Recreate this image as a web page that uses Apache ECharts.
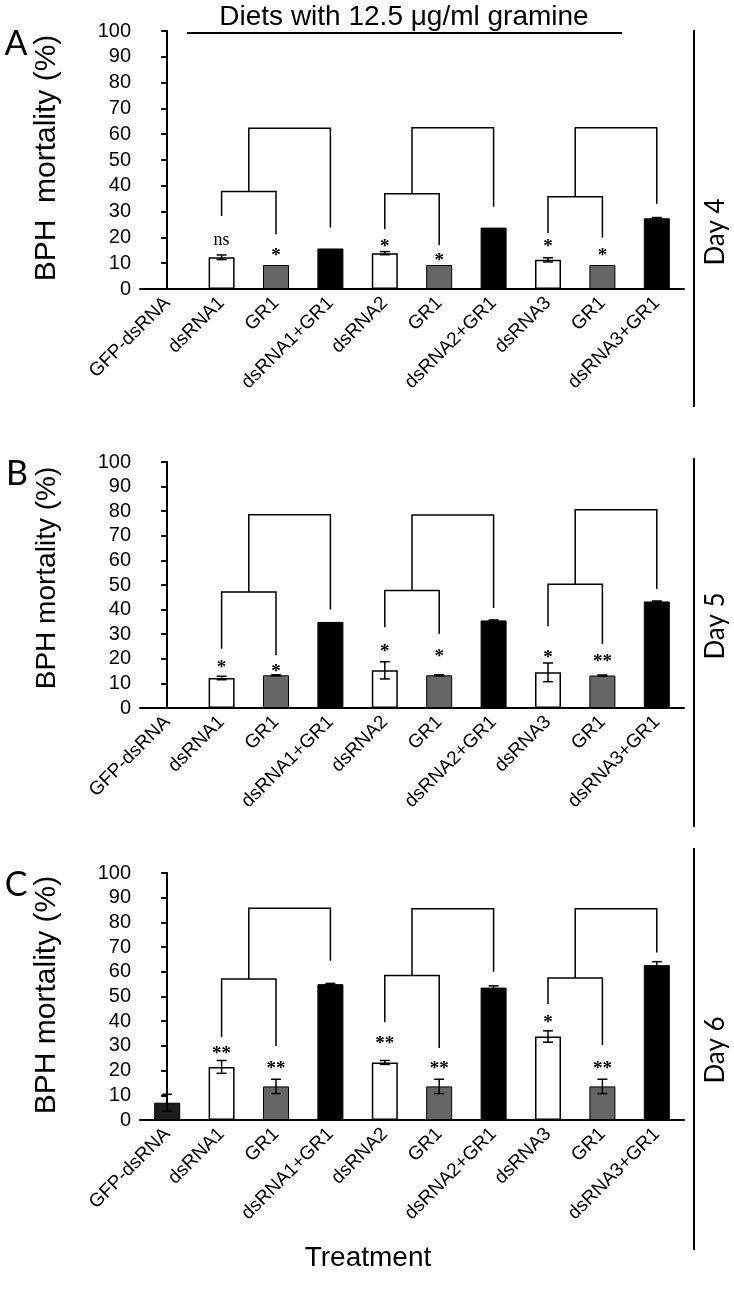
<!DOCTYPE html>
<html>
<head>
<meta charset="utf-8">
<script src="https://cdn.jsdelivr.net/npm/echarts@6/dist/echarts.min.js"></script>
<style>
  html, body { margin: 0; padding: 0; background: #fff; }
  #chart { width: 734px; height: 1289px; }
</style>
</head>
<body>
<div id="chart"></div>
<script>
// treatments along the x axis
var categories = ['GFP-dsRNA', 'dsRNA1', 'GR1', 'dsRNA1+GR1', 'dsRNA2', 'GR1', 'dsRNA2+GR1', 'dsRNA3', 'GR1', 'dsRNA3+GR1'];

// Day 4 (panel A)
var meanDay4 = [0, 12.3, 9.3, 15.7, 13.9, 9.3, 23.8, 11.3, 9.3, 27.4];
var errDay4 = [0, 0.9, 0, 0, 0.6, 0, 0, 0.8, 0, 0.3];
var sigDay4 = ['', 'ns', '*', '', '*', '*', '', '*', '*', ''];
var sigYDay4 = [0, 19, 14.4, 0, 17.7, 12.5, 0, 17.7, 14.4, 0];
// brackets: [left x, right x, top, left end, right end]
var bracketDay4 = [
  [1, 2, 37.8, 28.3, 21.2],
  [1.5, 3, 62.3, 37.8, 23.8],
  [4, 5, 36.9, 23.2, 17.0],
  [4.5, 6, 62.5, 36.9, 31.9],
  [7, 8, 35.8, 21.6, 20.0],
  [7.5, 9, 62.5, 35.8, 33.0]
];

// Day 5 (panel B)
var meanDay5 = [0, 12.2, 13.3, 35.0, 15.3, 13.3, 35.6, 14.5, 13.2, 43.3];
var errDay5 = [0, 0.7, 0.2, 0, 3.5, 0.2, 0.2, 3.8, 0.2, 0.2];
var sigDay5 = ['', '*', '*', '', '*', '*', '', '*', '**', ''];
var sigYDay5 = [0, 18.0, 16.3, 0, 24.4, 22.4, 0, 22.0, 20.3, 0];
var bracketDay5 = [
  [1, 2, 47.2, 24.1, 21.4],
  [1.5, 3, 78.6, 47.2, 40.0],
  [4, 5, 47.8, 32.8, 30.2],
  [4.5, 6, 78.5, 47.8, 40.7],
  [7, 8, 50.3, 33.2, 26.0],
  [7.5, 9, 80.6, 50.3, 48.4]
];

// Day 6 (panel C)
var meanDay6 = [7.0, 21.5, 13.6, 55.0, 23.3, 13.6, 53.6, 33.8, 13.6, 62.7];
var errDay6 = [3.4, 2.6, 2.9, 0.3, 0.8, 2.9, 0.7, 2.3, 2.9, 1.4];
var sigDay6 = ['', '**', '**', '', '**', '**', '', '*', '**', ''];
var sigYDay6 = [0, 28.4, 22.3, 0, 32.2, 22.3, 0, 40.9, 22.3, 0];
var bracketDay6 = [
  [1, 2, 57.1, 33.5, 30.0],
  [1.5, 3, 85.7, 57.1, 64.5],
  [4, 5, 58.5, 39.6, 29.1],
  [4.5, 6, 85.5, 58.5, 60.0],
  [7, 8, 57.5, 47.0, 30.4],
  [7.5, 9, 85.5, 57.5, 67.8]
];

// bar fill per treatment
var barFill = ['#1e1e1e', '#ffffff', '#666666', '#000000', '#ffffff', '#666666', '#000000', '#ffffff', '#666666', '#000000'];

var panels = [
  { mean: meanDay4, err: errDay4, sig: sigDay4, sigY: sigYDay4, brackets: bracketDay4, top: 31, height: 258 },
  { mean: meanDay5, err: errDay5, sig: sigDay5, sigY: sigYDay5, brackets: bracketDay5, top: 462, height: 246 },
  { mean: meanDay6, err: errDay6, sig: sigDay6, sigY: sigYDay6, brackets: bracketDay6, top: 873, height: 247 }
];

var myChart = echarts.init(document.getElementById('chart'));

var grid = [], xAxis = [], yAxis = [], series = [];

panels.forEach(function (p, k) {
  grid.push({ left: 140, width: 544, top: p.top, height: p.height });

  // category axis
  xAxis.push({
    type: 'category',
    gridIndex: k,
    data: categories,
    axisLine: { lineStyle: { color: '#000', width: 2 } },
    axisTick: { interval: 0, length: 7, lineStyle: { color: '#000', width: 2 } },
    axisLabel: {
      interval: 0,
      rotate: 45,
      margin: 11,
      color: '#000',
      fontSize: 19,
      fontFamily: 'Liberation Sans'
    }
  });

  yAxis.push({
    type: 'value',
    gridIndex: k,
    min: 0,
    max: 100,
    interval: 10,
    splitLine: { show: false },
    axisLine: { show: true, lineStyle: { color: '#000', width: 2 } },
    axisTick: { show: true, length: 6, lineStyle: { color: '#000', width: 2 } },
    axisLabel: { color: '#000', fontSize: 20, margin: 9, fontFamily: 'Liberation Sans' }
  });
});

// hidden value axes used to place annotations between bars
panels.forEach(function (p, k) {
  xAxis.push({ type: 'value', gridIndex: k, min: -0.5, max: 9.5, show: false });
});

panels.forEach(function (p, k) {
  // bars
  series.push({
    type: 'bar',
    xAxisIndex: k,
    yAxisIndex: k,
    barWidth: 26,
    data: p.mean.map(function (v, i) {
      return {
        value: v,
        itemStyle: {
          color: barFill[i],
          borderColor: '#000',
          borderWidth: barFill[i] === '#ffffff' ? 1.5 : 1
        }
      };
    })
  });

  // error bars
  series.push({
    type: 'custom',
    xAxisIndex: k + 3,
    yAxisIndex: k,
    z: 5,
    clip: false,
    data: p.mean.map(function (v, i) { return [i, v, p.err[i]]; }),
    renderItem: function (params, api) {
      var i = api.value(0), m = api.value(1), e = api.value(2);
      if (!e) return null;
      var hi = api.coord([i, m + e]), lo = api.coord([i, m - e]);
      var w = 5;
      var st = { stroke: '#000', lineWidth: 1.5 };
      return {
        type: 'group',
        children: [
          { type: 'line', shape: { x1: hi[0], y1: hi[1], x2: lo[0], y2: lo[1] }, style: st },
          { type: 'line', shape: { x1: hi[0] - w, y1: hi[1], x2: hi[0] + w, y2: hi[1] }, style: st },
          { type: 'line', shape: { x1: lo[0] - w, y1: lo[1], x2: lo[0] + w, y2: lo[1] }, style: st }
        ]
      };
    }
  });

  // comparison brackets
  series.push({
    type: 'custom',
    xAxisIndex: k + 3,
    yAxisIndex: k,
    z: 5,
    clip: false,
    data: p.brackets,
    renderItem: function (params, api) {
      var x1 = api.value(0), x2 = api.value(1), t = api.value(2);
      var pts = [
        api.coord([x1, api.value(3)]),
        api.coord([x1, t]),
        api.coord([x2, t]),
        api.coord([x2, api.value(4)])
      ];
      return {
        type: 'polyline',
        shape: { points: pts },
        style: { stroke: '#000', lineWidth: 1.5, fill: null }
      };
    }
  });

  // significance marks
  var sigData = [];
  p.sig.forEach(function (s, i) { if (s) sigData.push([i, p.sigY[i]]); });
  var sigText = p.sig.filter(function (s) { return s; });
  series.push({
    type: 'custom',
    xAxisIndex: k + 3,
    yAxisIndex: k,
    z: 6,
    clip: false,
    data: sigData,
    renderItem: function (params, api) {
      var pt = api.coord([api.value(0), api.value(1)]);
      var s = sigText[params.dataIndex];
      var star = s.charAt(0) === '*';
      return {
        type: 'text',
        x: pt[0],
        y: pt[1] + (star ? 4 : 0),
        style: {
          text: s,
          fill: '#000',
          font: (star ? 'bold 19px' : '18px') + ' "Liberation Serif"',
          align: 'center',
          verticalAlign: 'middle'
        }
      };
    }
  });
});

function vText(txt, x, y, size, family) {
  return {
    type: 'text', x: x, y: y, rotation: Math.PI / 2,
    style: { text: txt, fill: '#000', font: size + 'px ' + family, align: 'center', verticalAlign: 'middle' }
  };
}

var graphic = [
  // heading with underline
  { type: 'text', x: 404, y: 17, style: { text: 'Diets with 12.5 \u03bcg/ml gramine', fill: '#000', font: '28px "Liberation Sans"', align: 'center', verticalAlign: 'middle' } },
  { type: 'line', shape: { x1: 187, y1: 33, x2: 622, y2: 33 }, style: { stroke: '#000', lineWidth: 2 } },
  // panel letters
  { type: 'text', x: 16, y: 44, style: { text: 'A', fill: '#000', font: '34px Lato', align: 'center', verticalAlign: 'middle' } },
  { type: 'text', x: 17, y: 474, style: { text: 'B', fill: '#000', font: '34px Lato', align: 'center', verticalAlign: 'middle' } },
  { type: 'text', x: 16, y: 885, style: { text: 'C', fill: '#000', font: '34px Lato', align: 'center', verticalAlign: 'middle' } },
  // y titles
  vText('BPH  mortality (%)', 47, 158, 30, '"Liberation Sans"'),
  vText('BPH mortality (%)', 47, 578, 28, '"Liberation Sans"'),
  vText('BPH mortality (%)', 47, 995, 30, '"Liberation Sans"'),
  // day brackets on the right
  { type: 'line', shape: { x1: 694, y1: 30, x2: 694, y2: 407 }, style: { stroke: '#000', lineWidth: 2 } },
  { type: 'line', shape: { x1: 694, y1: 458, x2: 694, y2: 827 }, style: { stroke: '#000', lineWidth: 2 } },
  { type: 'line', shape: { x1: 694, y1: 848, x2: 694, y2: 1250 }, style: { stroke: '#000', lineWidth: 2 } },
  vText('Day 4', 716, 232, 26, 'Lato'),
  vText('Day 5', 716, 626, 26, 'Lato'),
  vText('Day 6', 716, 1050, 26, 'Lato'),
  // x title
  { type: 'text', x: 368, y: 1258, style: { text: 'Treatment', fill: '#000', font: '28px "Liberation Sans"', align: 'center', verticalAlign: 'middle' } }
];

myChart.setOption({
  animation: false,
  backgroundColor: '#fff',
  grid: grid,
  xAxis: xAxis,
  yAxis: yAxis,
  series: series,
  graphic: graphic
});
</script>
</body>
</html>
